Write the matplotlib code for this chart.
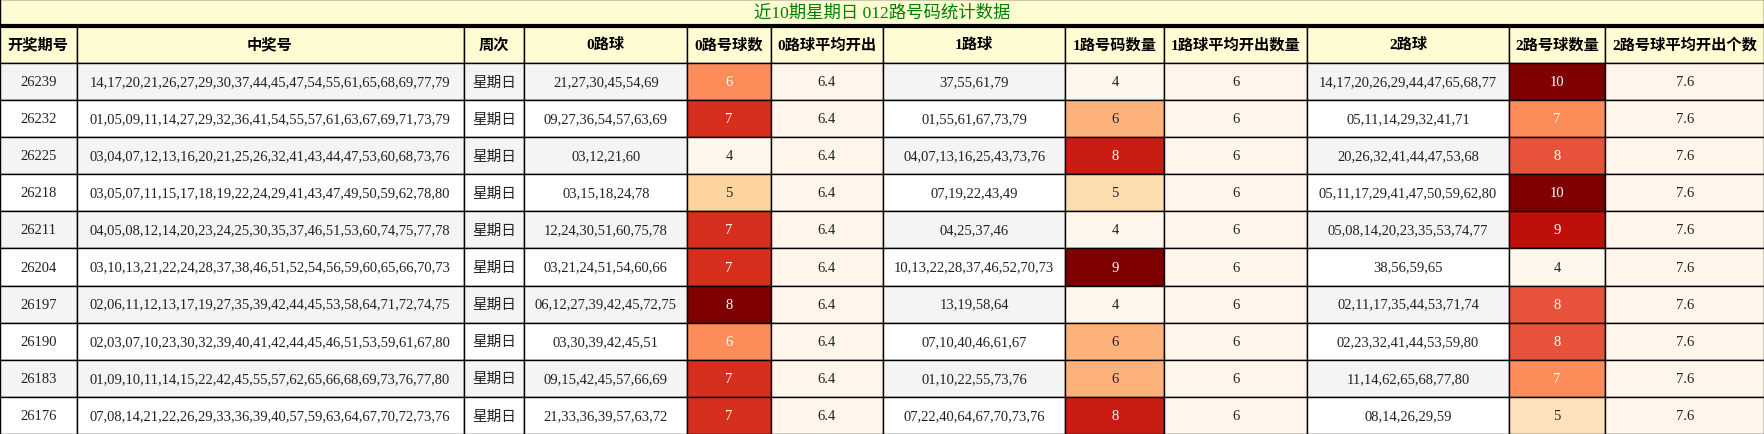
import matplotlib
matplotlib.use("Agg")
import matplotlib.pyplot as plt
from matplotlib.patches import Rectangle

title = "近10期星期日 012路号码统计数据"
headers = ["开奖期号", "中奖号", "周次", "0路球", "0路号球数", "0路球平均开出",
           "1路球", "1路号码数量", "1路球平均开出数量", "2路球", "2路号球数量", "2路号球平均开出个数"]
periods = ["26239", "26232", "26225", "26218", "26211", "26204", "26197", "26190", "26183", "26176"]
draws = [
    "14,17,20,21,26,27,29,30,37,44,45,47,54,55,61,65,68,69,77,79",
    "01,05,09,11,14,27,29,32,36,41,54,55,57,61,63,67,69,71,73,79",
    "03,04,07,12,13,16,20,21,25,26,32,41,43,44,47,53,60,68,73,76",
    "03,05,07,11,15,17,18,19,22,24,29,41,43,47,49,50,59,62,78,80",
    "04,05,08,12,14,20,23,24,25,30,35,37,46,51,53,60,74,75,77,78",
    "03,10,13,21,22,24,28,37,38,46,51,52,54,56,59,60,65,66,70,73",
    "02,06,11,12,13,17,19,27,35,39,42,44,45,53,58,64,71,72,74,75",
    "02,03,07,10,23,30,32,39,40,41,42,44,45,46,51,53,59,61,67,80",
    "01,09,10,11,14,15,22,42,45,55,57,62,65,66,68,69,73,76,77,80",
    "07,08,14,21,22,26,29,33,36,39,40,57,59,63,64,67,70,72,73,76",
]
weekday = ["星期日"] * 10
road0 = ["21,27,30,45,54,69", "09,27,36,54,57,63,69", "03,12,21,60", "03,15,18,24,78",
         "12,24,30,51,60,75,78", "03,21,24,51,54,60,66", "06,12,27,39,42,45,72,75",
         "03,30,39,42,45,51", "09,15,42,45,57,66,69", "21,33,36,39,57,63,72"]
cnt0 = [6, 7, 4, 5, 7, 7, 8, 6, 7, 7]
avg0 = ["6.4"] * 10
road1 = ["37,55,61,79", "01,55,61,67,73,79", "04,07,13,16,25,43,73,76", "07,19,22,43,49",
         "04,25,37,46", "10,13,22,28,37,46,52,70,73", "13,19,58,64", "07,10,40,46,61,67",
         "01,10,22,55,73,76", "07,22,40,64,67,70,73,76"]
cnt1 = [4, 6, 8, 5, 4, 9, 4, 6, 6, 8]
avg1 = ["6"] * 10
road2 = ["14,17,20,26,29,44,47,65,68,77", "05,11,14,29,32,41,71", "20,26,32,41,44,47,53,68",
         "05,11,17,29,41,47,50,59,62,80", "05,08,14,20,23,35,53,74,77", "38,56,59,65",
         "02,11,17,35,44,53,71,74", "02,23,32,41,44,53,59,80", "11,14,62,65,68,77,80", "08,14,26,29,59"]
cnt2 = [10, 7, 8, 10, 9, 4, 8, 8, 7, 5]
avg2 = ["7.6"] * 10

W, H = 1764, 435
s = 1764 / 1568
colx = [0, 68, 412, 466, 611, 685, 785, 947, 1035, 1162, 1341, 1427, 1568]
colx = [c * s for c in colx]
ys = 435 / 388
title_h = 24 * ys
head_h = 33 * ys
row_h = (H - title_h - head_h) / 10

fig = plt.figure(figsize=(W / 100, H / 100), dpi=100)
ax = fig.add_axes([0, 0, 1, 1])
ax.set_xlim(0, W)
ax.set_ylim(H, 0)
ax.axis("off")

serif = ["Liberation Serif", "Noto Sans CJK SC"]
header_bg = "#fffbd2"
avg_bg = "#fff5eb"
cmap = plt.get_cmap("OrRd")

ax.add_patch(Rectangle((0, 0), W, title_h, facecolor=header_bg, edgecolor="black", lw=1))
ax.plot([0, W], [title_h, title_h], color="black", lw=3)
ax.text(W / 2, title_h / 2, title, color="#008000", fontsize=12.5, ha="center", va="center",
        family=serif)

for i, h in enumerate(headers):
    x0, x1 = colx[i], colx[i + 1]
    ax.add_patch(Rectangle((x0, title_h), x1 - x0, head_h, facecolor=header_bg, edgecolor="black", lw=1))
    ax.text((x0 + x1) / 2, title_h + head_h / 2, h, fontsize=11, fontweight="bold",
            ha="center", va="center", family=serif)

cols = [periods, draws, weekday, road0, cnt0, avg0, road1, cnt1, avg1, road2, cnt2, avg2]
heat = {4: cnt0, 7: cnt1, 10: cnt2}
for r in range(10):
    y0 = title_h + head_h + r * row_h
    base = "#f4f4f4" if r % 2 == 0 else "#ffffff"
    for c in range(12):
        x0, x1 = colx[c], colx[c + 1]
        txtc = "#222222"
        fam = serif
        val = cols[c][r]
        if c in heat:
            arr = heat[c]
            t = (val - min(arr)) / (max(arr) - min(arr))
            fc = cmap(t)
            if t >= 0.4 and not (c == 7 and val == 6):
                txtc = "white"
        elif c in (5, 8, 11):
            fc = avg_bg
        else:
            fc = base
        if c == 2:
            fam = ["Noto Sans CJK SC"]
        ax.add_patch(Rectangle((x0, y0), x1 - x0, row_h, facecolor=fc, edgecolor="black", lw=1))
        ax.text((x0 + x1) / 2, y0 + row_h / 2, str(val), fontsize=10.5, color=txtc,
                ha="center", va="center", family=fam)

fig.savefig("out.png", dpi=100)
